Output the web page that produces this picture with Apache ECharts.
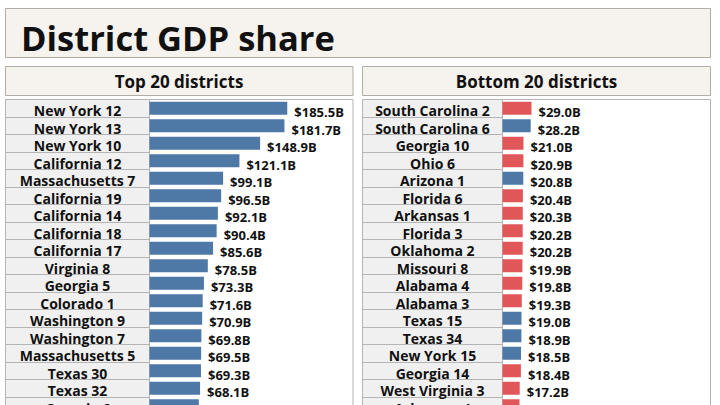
<!DOCTYPE html>
<html>
<head>
<meta charset="utf-8">
<script src="https://cdn.jsdelivr.net/npm/echarts@6/dist/echarts.min.js"></script>
<style>
html,body{margin:0;padding:0;background:#fff;overflow:hidden;}
#chart{width:720px;height:460px;}
</style>
</head>
<body>
<div id="chart"></div>
<script>
const chartTitle = 'District GDP share';
const topTitle = 'Top 20 districts';
const bottomTitle = 'Bottom 20 districts';

const topDistricts = ['New York 12','New York 13','New York 10','California 12','Massachusetts 7','California 19','California 14','California 18','California 17','Virginia 8','Georgia 5','Colorado 1','Washington 9','Washington 7','Massachusetts 5','Texas 30','Texas 32','Georgia 6','Illinois 9','New Jersey 7'];
const topGdp = [185.5,181.7,148.9,121.1,99.1,96.5,92.1,90.4,85.6,78.5,73.3,71.6,70.9,69.8,69.5,69.3,68.1,66.4,65.2,64.0];
const topParty = ['D','D','D','D','D','D','D','D','D','D','D','D','D','D','D','D','D','D','D','D'];

const bottomDistricts = ['South Carolina 2','South Carolina 6','Georgia 10','Ohio 6','Arizona 1','Florida 6','Arkansas 1','Florida 3','Oklahoma 2','Missouri 8','Alabama 4','Alabama 3','Texas 15','Texas 34','New York 15','Georgia 14','West Virginia 3','Arkansas 4','Kentucky 5','Mississippi 2'];
const bottomGdp = [29.0,28.2,21.0,20.9,20.8,20.4,20.3,20.2,20.2,19.9,19.8,19.3,19.0,18.9,18.5,18.4,17.2,17.0,16.8,16.5];
const bottomParty = ['R','D','R','R','D','R','R','R','R','R','R','R','D','D','D','R','R','R','R','R'];

const partyColor = { D: '#4e79a7', R: '#e15759' };
const FONT = 'Open Sans';

const rowTop = 99.5, rowH = 17.5;
const gridH = rowH * topDistricts.length;

function labelGrid(left, width) {
  return { left: left, top: rowTop, width: width, height: gridH, show: true,
    backgroundColor: '#f0f0f0', borderColor: '#b4b4b4', borderWidth: 1,
    containLabel: false, outerBoundsMode: 'none' };
}
function barGrid(left, width) {
  return { left: left, top: rowTop, width: width, height: gridH, show: true,
    backgroundColor: '#ffffff', borderColor: '#b4b4b4', borderWidth: 1,
    containLabel: false, outerBoundsMode: 'none' };
}
function labelYAxis(idx, names, halfW) {
  return { gridIndex: idx, type: 'category', inverse: true, data: names,
    axisLine: { show: false }, axisTick: { show: false },
    splitLine: { show: true, lineStyle: { color: '#b4b4b4', width: 1 } },
    axisLabel: { inside: true, margin: halfW, align: 'center', verticalAlign: 'top', lineHeight: 5,
      fontFamily: FONT, fontWeight: 'bold',
      fontSize: 14, color: '#111', interval: 0, hideOverlap: false } };
}
function barYAxis(idx, names) {
  return { gridIndex: idx, type: 'category', inverse: true, data: names, show: false };
}
function barSeries(idx, names, vals, party) {
  return { type: 'bar', xAxisIndex: idx, yAxisIndex: idx, barWidth: 13,
    data: vals.map((v, i) => ({ value: v, itemStyle: { color: partyColor[party[i]] } })),
    label: { show: true, position: 'right', distance: 7, offset: [0, 4],
      formatter: p => '$' + p.value.toFixed(1) + 'B',
      fontFamily: FONT, fontWeight: 'bold', fontSize: 13, color: '#111' },
    animation: false, silent: true };
}

const chart = echarts.init(document.getElementById('chart'), null, { renderer: 'svg' });
chart.setOption({
  animation: false,
  backgroundColor: '#ffffff',
  graphic: [
    { type: 'rect', shape: { x: 5.5, y: 8.5, width: 705, height: 49 }, style: { fill: '#f6f2ee', stroke: '#b3aea4', lineWidth: 1 }, z: 0 },
    { type: 'text', x: 21, y: 37.5, style: { text: chartTitle, font: 'bold 34.5px "' + FONT + '"', fill: '#111', textVerticalAlign: 'middle' }, z: 1 },
    { type: 'rect', shape: { x: 5.5, y: 66.5, width: 347.5, height: 29 }, style: { fill: '#f6f2ee', stroke: '#b3aea4', lineWidth: 1 }, z: 0 },
    { type: 'text', x: 179, y: 81.5, style: { text: topTitle, font: 'bold 17px "' + FONT + '"', fill: '#111', textAlign: 'center', textVerticalAlign: 'middle' }, z: 1 },
    { type: 'rect', shape: { x: 362.5, y: 66.5, width: 348, height: 29 }, style: { fill: '#f6f2ee', stroke: '#b3aea4', lineWidth: 1 }, z: 0 },
    { type: 'text', x: 536.5, y: 81.5, style: { text: bottomTitle, font: 'bold 17px "' + FONT + '"', fill: '#111', textAlign: 'center', textVerticalAlign: 'middle' }, z: 1 }
  ],
  grid: [
    labelGrid(5.5, 144),
    barGrid(149.5, 203.5),
    labelGrid(362.5, 140),
    barGrid(502.5, 208)
  ],
  xAxis: [
    { gridIndex: 0, type: 'value', min: 0, max: 1, show: false },
    { gridIndex: 1, type: 'value', min: 0, max: 274, show: false },
    { gridIndex: 2, type: 'value', min: 0, max: 1, show: false },
    { gridIndex: 3, type: 'value', min: 0, max: 208, show: false }
  ],
  yAxis: [
    labelYAxis(0, topDistricts, 72),
    barYAxis(1, topDistricts),
    labelYAxis(2, bottomDistricts, 70),
    barYAxis(3, bottomDistricts)
  ],
  series: [
    barSeries(1, topDistricts, topGdp, topParty),
    barSeries(3, bottomDistricts, bottomGdp, bottomParty)
  ]
});
</script>
</body>
</html>
